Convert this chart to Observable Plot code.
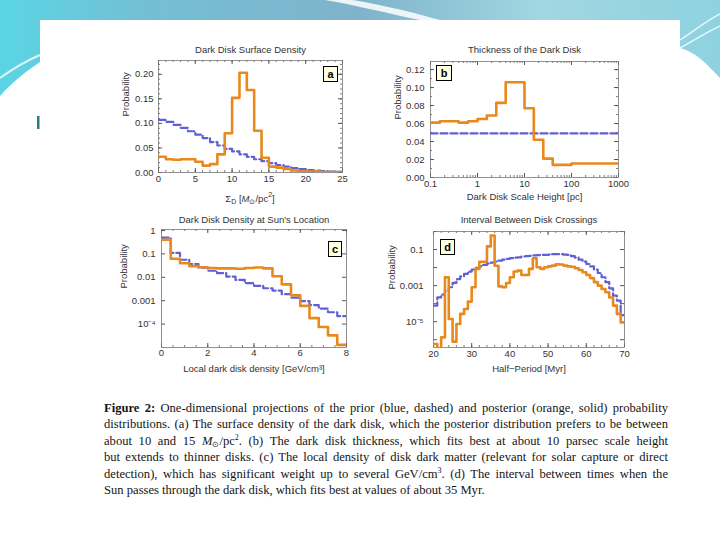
<!DOCTYPE html>
<html><head><meta charset="utf-8">
<script src="https://cdn.jsdelivr.net/npm/d3@7"></script>
<script src="https://cdn.jsdelivr.net/npm/@observablehq/plot@0.6"></script>
<style>
html,body{margin:0;padding:0;width:720px;height:540px;overflow:hidden;background:#fff;}
#page{position:relative;width:720px;height:540px;}
.panel{position:absolute;}
.tag{position:absolute;box-sizing:border-box;border:1.6px solid #000;background:#ffffe4;font:bold 11px "Liberation Sans",sans-serif;color:#000;display:flex;align-items:center;justify-content:center;}
.lab{position:absolute;font:9.5px "Liberation Sans",sans-serif;color:#333;transform:translate(-50%,-50%);white-space:nowrap;}
.cap{position:absolute;left:104px;width:564px;font-family:"Liberation Serif",serif;font-size:12.6px;color:#151515;}
.cap div{height:16.4px;line-height:16.4px;text-align:justify;text-align-last:justify;white-space:nowrap;overflow:visible;}
.cap div.last{text-align-last:left;}
.cap sub,.cap sup,.lab sub,.lab sup{line-height:0;font-size:8px;}
.cap sup{vertical-align:5px;}
.cap sub{vertical-align:-2px;}
</style></head>
<body><div id="page">
<svg width="720" height="540" style="position:absolute;left:0;top:0">
  <defs><linearGradient id="g" x1="0" x2="1" y1="0" y2="0">
    <stop offset="0" stop-color="#5ad5e4"/><stop offset="0.2" stop-color="#74bfd4"/>
    <stop offset="0.5" stop-color="#7fb3cb"/><stop offset="0.75" stop-color="#a2d6e2"/>
    <stop offset="1" stop-color="#8ed2e0"/></linearGradient></defs>
  <path d="M0,0 H720 V78 C705,62 695,52 680,48 V20 H40 V62 C28,70 12,82 0,96 Z" fill="url(#g)"/>
  <path d="M325,0 C360,6 390,14 420,20 L440,20 C405,10 372,3 352,0 Z" fill="#fff" opacity="0.85"/>
  <path d="M0,78 C14,68 28,60 40,55" stroke="#fff" stroke-width="2" fill="none" opacity="0.8"/>
  <path d="M680,40 C695,30 705,22 720,14" stroke="#fff" stroke-width="1.5" fill="none" opacity="0.8"/>
  <path d="M680,48 C695,40 707,32 720,26" stroke="#fff" stroke-width="1.5" fill="none" opacity="0.8"/>
  <rect x="40" y="20" width="640" height="520" fill="#fff"/>
  <rect x="37" y="116" width="2.5" height="13" fill="#2a7d88"/>
</svg>
<div id="pa" class="panel" style="left:90px;top:40px"></div>
<div id="pb" class="panel" style="left:370px;top:40px"></div>
<div id="pc" class="panel" style="left:90px;top:205px"></div>
<div id="pd" class="panel" style="left:370px;top:205px"></div>
<div class="lab" style="left:250px;top:198px">Σ<sub style="font-size:7px">D</sub> [<i>M</i><sub style="font-size:7px">⊙</sub>/pc<sup style="font-size:7px">2</sup>]</div>
<div class="tag" style="left:323px;top:66px;width:15px;height:16px">a</div>
<div class="tag" style="left:436px;top:65px;width:16px;height:16px">b</div>
<div class="tag" style="left:328px;top:241px;width:14px;height:16px">c</div>
<div class="tag" style="left:440px;top:239px;width:15px;height:16px">d</div>
<div class="cap" style="top:400px">
<div><b>Figure 2:</b> One-dimensional projections of the prior (blue, dashed) and posterior (orange, solid) probability</div>
<div>distributions. (a) The surface density of the dark disk, which the posterior distribution prefers to be between</div>
<div>about 10 and 15 <i>M</i><sub>⊙</sub>/pc<sup>2</sup>. (b) The dark disk thickness, which fits best at about 10 parsec scale height</div>
<div>but extends to thinner disks. (c) The local density of disk dark matter (relevant for solar capture or direct</div>
<div>detection), which has significant weight up to several GeV/cm<sup>3</sup>. (d) The interval between times when the</div>
<div class="last">Sun passes through the dark disk, which fits best at values of about 35 Myr.</div>
</div>
</div>
<script>
// ---------- Panel a: Dark Disk Surface Density ----------
const aEdges = [0,1,2,3,4,5,6,7,8,9,10,11,12,13,14,15,16,17,18,19,20,21,22,23,24,25];
const aPost  = [0.032,0.027,0.026,0.027,0.027,0.022,0.014,0.017,0.037,0.080,0.152,0.203,0.168,0.085,0.030,0.012,0.010,0.007,0.004,0.003,0.002,0.002,0.001,0.001,0.001];
const aPrior = [0.107,0.103,0.097,0.091,0.084,0.077,0.070,0.062,0.055,0.048,0.043,0.037,0.032,0.027,0.023,0.019,0.015,0.012,0.009,0.007,0.005,0.004,0.003,0.002,0.0015];
const aXTicks = [0,5,10,15,20,25];
const aYTicks = [0,0.05,0.10,0.15,0.20];

// ---------- Panel b: Thickness of the Dark Disk ----------
const bEdges = [0.1,0.158,0.251,0.398,0.631,1,1.58,2.51,3.98,6.31,10,15.8,25.1,39.8,63.1,100,1000];
const bPost  = [0.061,0.0625,0.0625,0.061,0.0625,0.065,0.069,0.083,0.106,0.106,0.077,0.042,0.021,0.014,0.014,0.0155];
const bPriorEdges = [0.1,1000];
const bPrior = [0.049];
const bXTicks = [0.1,1,10,100,1000];
const bYTicks = [0,0.02,0.04,0.06,0.08,0.10,0.12];

// ---------- Panel c: Dark Disk Density at Sun's Location ----------
const cEdges = [0,0.4,0.8,1.2,1.6,2.0,2.4,2.8,3.2,3.6,4.0,4.4,4.8,5.2,5.6,6.0,6.4,6.8,7.2,7.6,8.0];
const cPost  = [0.4,0.062,0.04,0.03,0.027,0.025,0.024,0.024,0.023,0.025,0.026,0.024,0.011,0.005,0.0017,0.0006,0.00018,0.000075,0.000033,0.000013];
const cPrior = [0.49,0.11,0.056,0.037,0.026,0.019,0.015,0.0107,0.0077,0.0056,0.0043,0.0034,0.0027,0.0019,0.00134,0.00096,0.00065,0.00046,0.00032,0.00022];
const cXTicks = [0,2,4,6,8];
const cYTicks = [1,0.1,0.01,0.001,0.0001];
const cYLabels = ["1","0.1","0.01","0.001","10⁻⁴"];

// ---------- Panel d: Interval Between Disk Crossings ----------
const dEdges = [20,21,22,23,24,25,26,27,28,29,30,31,32,33,34,35,36,37,38,39,40,41,42,43,44,45,46,47,48,49,50,51,52,53,54,55,56,57,58,59,60,61,62,63,64,65,66,67,68,69,70];
const dPost  = [5.8e-7,3.3e-7,1.35e-6,2.9e-3,1.4e-5,7.8e-7,7.4e-6,2.7e-5,5e-5,1.3e-4,8.1e-4,8.5e-3,0.021,0.021,0.15,0.6,0.0126,9.1e-4,8.1e-4,1.4e-3,2.9e-3,6e-3,6.8e-3,3.9e-3,3.9e-3,8.5e-3,0.033,0.0105,8.5e-3,0.0105,0.0117,0.0129,0.0151,0.0148,0.0129,0.0117,0.011,9.1e-3,7.4e-3,5.5e-3,3.9e-3,2.6e-3,1.55e-3,1e-3,6.5e-4,4.3e-4,2.2e-4,7.8e-5,2.7e-5,9.1e-6];
const dPrior = [7.8e-5,2.2e-4,3.2e-4,5.2e-4,8.1e-4,1.4e-3,2.3e-3,3.3e-3,4.5e-3,6e-3,7.8e-3,9.5e-3,0.0117,0.0141,0.0166,0.019,0.0214,0.0245,0.0275,0.030,0.033,0.036,0.037,0.041,0.043,0.045,0.047,0.049,0.050,0.050,0.052,0.055,0.055,0.055,0.052,0.050,0.043,0.036,0.0275,0.0214,0.0158,0.0117,7.8e-3,5e-3,2.9e-3,1.55e-3,7.1e-4,2.75e-4,1.48e-4,2.3e-5];
const dXTicks = [20,30,40,50,60,70];
const dYTickMarks = [1,0.1,0.01,0.001,0.0001,0.00001,0.000001];
const dYTicks = [0.1,0.001,0.00001];
const dYLabels = ["0.1","0.001","10⁻⁵"];

// ---------- styling ----------
const ORANGE = "#e8891e", BLUE = "#5f5fd6", TICK = "#444", FRAME = "#777", TXT = "#333";

function steps(edges, vals) {
  const pts = vals.map((v, i) => ({x: edges[i], y: v}));
  pts.push({x: edges[edges.length - 1], y: vals[vals.length - 1]});
  return pts;
}
function ticks(xs, ys, len, W, H, sw = 0.8) {
  return [
    Plot.ruleX(xs, {x: d => d, insetTop: H - len, stroke: TICK, strokeWidth: sw}),
    Plot.ruleX(xs, {x: d => d, insetBottom: H - len, stroke: TICK, strokeWidth: sw}),
    Plot.ruleY(ys, {y: d => d, insetRight: W - len, stroke: TICK, strokeWidth: sw}),
    Plot.ruleY(ys, {y: d => d, insetLeft: W - len, stroke: TICK, strokeWidth: sw})
  ];
}
function makePanel(o) {
  const W = o.width - o.mL - o.mR, H = o.height - o.mT - o.mB;
  const marks = [
    ...ticks(o.xMinor, o.yMinor, 2, W, H, 0.7),
    ...ticks(o.xMajor, o.yMajor, 4, W, H, 0.9),
    Plot.frame({stroke: FRAME, strokeWidth: 0.8}),
    Plot.line(o.prior, {x: "x", y: "y", curve: "step-after", stroke: BLUE, strokeWidth: 2.2, strokeDasharray: "7,3", clip: true}),
    Plot.line(o.post, {x: "x", y: "y", curve: "step-after", stroke: ORANGE, strokeWidth: 2.6, clip: true}),
    Plot.axisX(o.xTicks, {tickSize: 0, tickPadding: o.xPad, tickFormat: o.xFmt, label: null, fill: TXT}),
    Plot.axisY(o.yTicks, {tickSize: 0, tickPadding: o.yPad, tickFormat: o.yFmt, label: null, fill: TXT}),
    Plot.text([o.title], {frameAnchor: "top", text: d => d, dy: o.titleDy, fill: TXT, fontSize: 9.5}),
    Plot.text(["Probability"], {frameAnchor: "left", text: d => d, rotate: -90, dx: o.yLabDx, fill: TXT, fontSize: 9.5})
  ];
  if (o.xLabel) marks.push(Plot.text([o.xLabel], {frameAnchor: "bottom", text: d => d, dy: o.xLabDy, fill: TXT, fontSize: 9.5}));
  const svg = Plot.plot({
    width: o.width, height: o.height,
    marginLeft: o.mL, marginRight: o.mR, marginTop: o.mT, marginBottom: o.mB,
    x: o.x, y: o.y,
    style: {fontFamily: "Liberation Sans, sans-serif", fontSize: "9.5px", background: "transparent", overflow: "visible", color: TXT},
    marks
  });
  document.getElementById(o.id).appendChild(svg);
}

makePanel({
  id: "pa", width: 270, height: 170, mL: 68, mR: 18, mT: 20, mB: 38,
  x: {domain: [0, 25]}, y: {domain: [0, 0.228]},
  prior: steps(aEdges, aPrior), post: steps(aEdges, aPost),
  xMajor: aXTicks, yMajor: aYTicks, xMinor: d3.range(0, 26, 1), yMinor: d3.range(0, 0.23, 0.01),
  xTicks: aXTicks, yTicks: aYTicks, xFmt: d => String(d), yFmt: d3.format(".2f"),
  xPad: 3, yPad: 5, title: "Dark Disk Surface Density", titleDy: -14, yLabDx: -33, xLabel: null
});

makePanel({
  id: "pb", width: 265, height: 170, mL: 60, mR: 17, mT: 21, mB: 33,
  x: {type: "log", domain: [0.1, 1000]}, y: {domain: [0, 0.129]},
  prior: steps(bPriorEdges, bPrior), post: steps(bEdges, bPost),
  xMajor: bXTicks, yMajor: bYTicks,
  xMinor: [0.1, 1, 10, 100].flatMap(p => [2,3,4,5,6,7,8,9].map(m => m * p)),
  yMinor: d3.range(0, 0.13, 0.01),
  xTicks: bXTicks, yTicks: bYTicks, xFmt: d => String(d), yFmt: d3.format(".2f"),
  xPad: 3, yPad: 6, title: "Thickness of the Dark Disk", titleDy: -15, yLabDx: -33,
  xLabel: "Dark Disk Scale Height [pc]", xLabDy: 22
});

makePanel({
  id: "pc", width: 270, height: 175, mL: 71, mR: 14, mT: 24, mB: 33,
  x: {domain: [0, 8]}, y: {type: "log", domain: [1e-5, 1.1]},
  prior: steps(cEdges, cPrior), post: steps(cEdges, cPost),
  xMajor: cXTicks, yMajor: cYTicks, xMinor: d3.range(0, 8.01, 0.5), yMinor: [],
  xTicks: cXTicks, yTicks: cYTicks, xFmt: d => String(d), yFmt: d => cYLabels[cYTicks.indexOf(d)],
  xPad: 2, yPad: 6, title: "Dark Disk Density at Sun's Location", titleDy: -13, yLabDx: -38,
  xLabel: "Local dark disk density [GeV/cm³]", xLabDy: 24
});

makePanel({
  id: "pd", width: 265, height: 175, mL: 63, mR: 11, mT: 26, mB: 33,
  x: {domain: [20, 70]}, y: {type: "log", domain: [3.7e-7, 1]},
  prior: steps(dEdges, dPrior), post: steps(dEdges, dPost),
  xMajor: dXTicks, yMajor: dYTickMarks, xMinor: d3.range(20, 70.1, 2), yMinor: [],
  xTicks: dXTicks, yTicks: dYTicks, xFmt: d => String(d), yFmt: d => dYLabels[dYTicks.indexOf(d)],
  xPad: 3, yPad: 10, title: "Interval Between Disk Crossings", titleDy: -15, yLabDx: -42,
  xLabel: "Half−Period [Myr]", xLabDy: 24
});
</script>
</body></html>
